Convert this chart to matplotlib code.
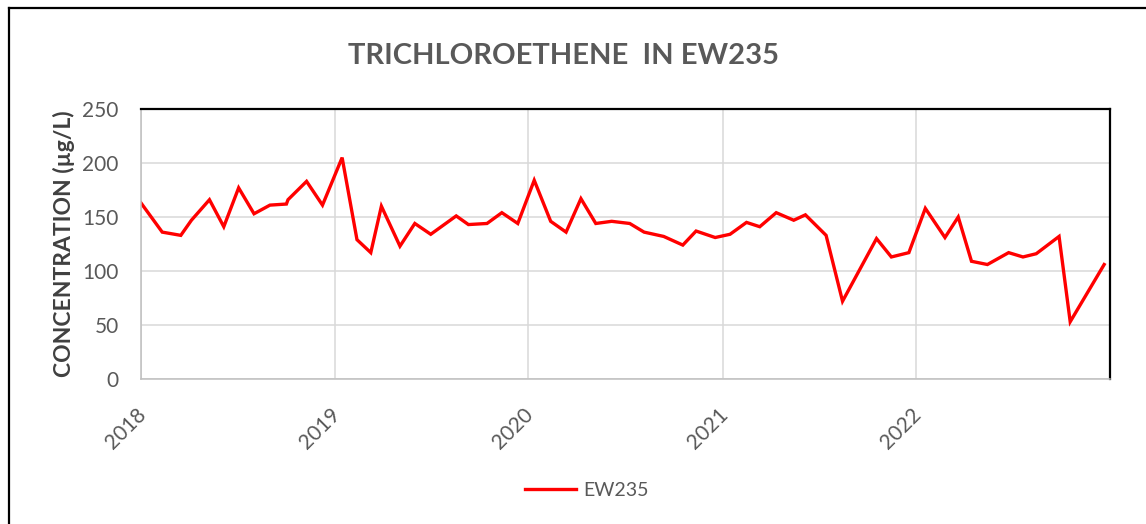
import matplotlib
matplotlib.use("Agg")
import matplotlib.pyplot as plt
import matplotlib.transforms as mtransforms
from matplotlib.lines import Line2D
import pandas as pd

plt.rcParams['font.family'] = ['Lato', 'DejaVu Sans']

title = "TRICHLOROETHENE  IN EW235"
ylabel = "CONCENTRATION (µg/L)"
series_name = "EW235"

dates = [
    "2018-01-01", "2018-02-10", "2018-03-17", "2018-04-06", "2018-05-10", "2018-06-06",
    "2018-07-04", "2018-08-02", "2018-09-01", "2018-10-02", "2018-10-05", "2018-11-09",
    "2018-12-09", "2019-01-15", "2019-02-12", "2019-03-10", "2019-03-30", "2019-05-04",
    "2019-06-01", "2019-07-01", "2019-08-18", "2019-09-10", "2019-10-15", "2019-11-12",
    "2019-12-12", "2020-01-12", "2020-02-12", "2020-03-12", "2020-04-09", "2020-05-07",
    "2020-06-06", "2020-07-10", "2020-08-06", "2020-09-12", "2020-10-18", "2020-11-12",
    "2020-12-18", "2021-01-15", "2021-02-15", "2021-03-12", "2021-04-12", "2021-05-15",
    "2021-06-06", "2021-07-15", "2021-08-15", "2021-10-18", "2021-11-15", "2021-12-18",
    "2022-01-18", "2022-02-24", "2022-03-21", "2022-04-15", "2022-05-15", "2022-06-24",
    "2022-07-21", "2022-08-15", "2022-09-27", "2022-10-18", "2022-12-21",
]
values = [
    163, 136, 133, 147, 166, 141,
    177, 153, 161, 162, 166, 183,
    161, 205, 129, 117, 160, 123,
    144, 134, 151, 143, 144, 154,
    144, 184, 146, 136, 167, 144,
    146, 144, 136, 132, 124, 137,
    131, 134, 145, 141, 154, 147,
    152, 133, 72, 130, 113, 117,
    158, 131, 150, 109, 106, 117,
    113, 116, 132, 53, 106,
]
year_ticks = ["2018", "2019", "2020", "2021", "2022"]
y_ticks = [0, 50, 100, 150, 200, 250]

W, H = 1146, 524
fig = plt.figure(figsize=(W / 100, H / 100), dpi=100)
fig.patch.set_facecolor("white")

# outer chart border (left and top visible)
fig.add_artist(Line2D([9 / W, 9 / W], [0, 1 - 8 / H], transform=fig.transFigure,
                      color="black", lw=1.6))
fig.add_artist(Line2D([9 / W, 1], [1 - 8 / H, 1 - 8 / H], transform=fig.transFigure,
                      color="black", lw=1.6))

l, r, t, b = 141, 1110, 109, 379
ax = fig.add_axes([l / W, 1 - b / H, (r - l) / W, (b - t) / H])

x = pd.to_datetime(dates)
ax.plot(x, values, color="#FF0000", lw=2.4, label=series_name, solid_joinstyle="miter")

ax.set_xlim(pd.Timestamp("2018-01-01"), pd.Timestamp("2023-01-01"))
ax.set_ylim(0, 250)
ax.set_yticks(y_ticks)
ax.set_xticks(pd.to_datetime([y + "-01-01" for y in year_ticks]))
ax.set_xticklabels(year_ticks, rotation=45, ha="right", rotation_mode="anchor")

ax.grid(True, color="#D9D9D9", lw=1.1)
ax.set_axisbelow(True)

for s in ["top", "right"]:
    ax.spines[s].set_color("black")
    ax.spines[s].set_linewidth(1.6)
for s in ["left", "bottom"]:
    ax.spines[s].set_color("#BFBFBF")
    ax.spines[s].set_linewidth(1.1)

ax.tick_params(axis="y", length=0, pad=16, labelsize=15, labelcolor="#595959")
ax.tick_params(axis="x", length=0, pad=18, labelsize=15, labelcolor="#595959")
shift = mtransforms.ScaledTranslation(-5 / 100, 0, fig.dpi_scale_trans)
for lab in ax.get_xticklabels():
    lab.set_transform(lab.get_transform() + shift)

ax.set_ylabel(ylabel, fontsize=16.5, fontweight="bold", color="#404040", labelpad=5)

fig.text(564 / W, 1 - 56 / H, title, ha="center", va="center", fontsize=21,
         fontweight="bold", color="#595959")

leg = ax.legend(loc="center", bbox_to_anchor=(587 / W, 1 - 490 / H),
                bbox_transform=fig.transFigure, frameon=False, fontsize=14,
                handlelength=2.6, handletextpad=0.4)
for txt in leg.get_texts():
    txt.set_color("#595959")

fig.savefig("out.png", dpi=100, facecolor="white")
